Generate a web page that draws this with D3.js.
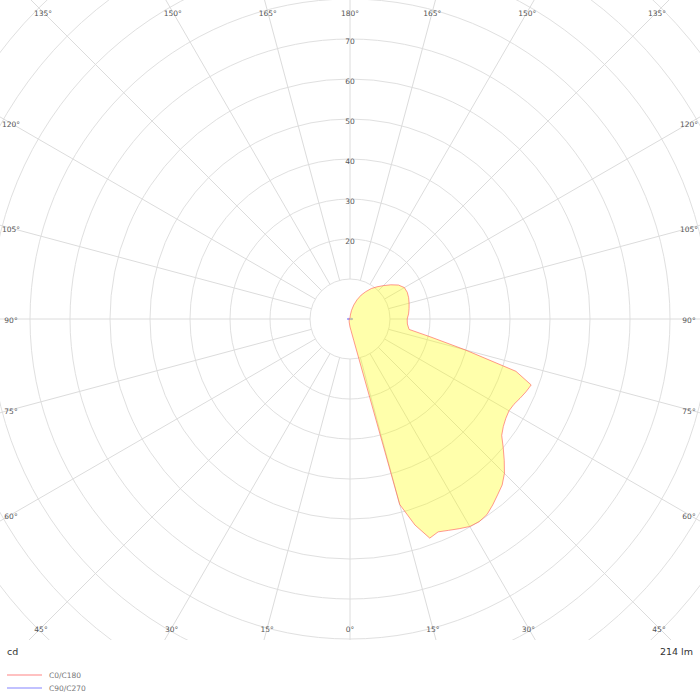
<!DOCTYPE html>
<html>
<head>
<meta charset="utf-8">
<script src="https://cdn.jsdelivr.net/npm/d3@7"></script>
<style>
    body { margin: 0; background: #fff; }
    svg { display: block; font-family: "DejaVu Sans", sans-serif; }
</style>
</head>
<body>
<script>
// gamma angles (deg) and intensities (cd)
var gammaC0 = [0, 5, 10, 15, 17.5, 20, 22.5, 25, 27.5, 30, 32.5, 35, 37.5, 40, 42.5, 45, 47.5, 50,
    52.5, 55, 57.5, 60, 62.5, 65, 67.5, 70, 72.5, 75, 77.5, 80, 85, 90, 95, 100, 105, 110, 115,
    120, 125, 130, 135, 140, 145, 150, 155, 160, 165, 170, 175, 180];
var cdC0 = [2.0, 2.9, 5.5, 48.0, 54.0, 58.3, 57.6, 58.3, 59.1, 59.9, 60.1, 59.7, 58.6, 57.4, 56.3, 54.6, 52.3, 50.0,
    47.8, 46.8, 46.2, 45.9, 46.2, 46.9, 47.6, 48.2, 43.5, 29.8, 20.5, 15.0, 14.4, 14.3, 14.7, 15.0, 15.3, 15.6, 15.8,
    15.7, 14.8, 13.3, 11.8, 10.5, 9.3, 7.9, 6.6, 5.1, 3.6, 2.2, 1.0, 0.3];

var gammaC180 = [0, 15, 30, 45, 60, 75, 90, 105, 120, 135, 150, 165, 180];
var cdC180 = [2.0, 0.8, 0.4, 0.3, 0.2, 0.2, 0.2, 0.2, 0.2, 0.2, 0.2, 0.2, 0.3];

var gammaC90 = [0, 15, 30, 45, 60, 75, 90, 105, 120, 135, 150, 165, 180];
var cdC90 = [0.1, 0.1, 0.1, 0.2, 0.3, 0.5, 0.7, 0.5, 0.3, 0.2, 0.1, 0.1, 0.1];
var cdC270 = [0.1, 0.1, 0.1, 0.2, 0.3, 0.5, 0.7, 0.5, 0.3, 0.2, 0.1, 0.1, 0.1];

var ringValues = [10, 20, 30, 40, 50, 60, 70, 80, 90, 100, 110, 120];
var ringLabels = [20, 30, 40, 50, 60, 70];
var spokeAngles = d3.range(0, 360, 15);

var legendNames = ["C0/C180", "C90/C270"];
var legendColors = ["#ffadad", "#adadff"];
var unitText = "cd";
var fluxText = "214 lm";

// set up
var width = 700, height = 700, plotH = 640;
var cx = 350, cy = 319;

var svg = d3.select("body").append("svg")
    .attr("width", width)
    .attr("height", height);

var r = d3.scaleLinear().domain([0, 10]).range([0, 40]);
var a = d3.scaleLinear().domain([0, 180]).range([0, Math.PI]);

svg.append("clipPath").attr("id", "plotClip")
    .append("rect").attr("x", 0).attr("y", 0).attr("width", width).attr("height", plotH);

var plot = svg.append("g").attr("clip-path", "url(#plotClip)");
var g = plot.append("g").attr("transform", "translate(" + cx + "," + cy + ")");

// rings
g.selectAll("circle.ring")
    .data(ringValues)
    .enter().append("circle")
    .attr("class", "ring")
    .attr("r", function(d) { return r(d); })
    .attr("fill", "none")
    .attr("stroke", "#e0e0e0")
    .attr("stroke-width", 1);

// spokes, gamma 0 points down
g.selectAll("line.spoke")
    .data(spokeAngles)
    .enter().append("line")
    .attr("class", "spoke")
    .attr("x1", function(d) { return r(10) * Math.sin(a(d)); })
    .attr("y1", function(d) { return r(10) * Math.cos(a(d)); })
    .attr("x2", function(d) { return 700 * Math.sin(a(d)); })
    .attr("y2", function(d) { return 700 * Math.cos(a(d)); })
    .attr("stroke", "#dcdcdc")
    .attr("stroke-width", 1);

// one closed outline: right half from gamma 0..180, left half back down
function halfPoints(gammas, values, side) {
    return gammas.map(function(gm, i) {
        return { ang: Math.PI - side * a(gm), val: values[i] };
    });
}
var radial = d3.lineRadial()
    .angle(function(d) { return d.ang; })
    .radius(function(d) { return r(d.val); });

var ptsC0 = halfPoints(gammaC0, cdC0, 1).concat(halfPoints(gammaC180, cdC180, -1).reverse());
var ptsC90 = halfPoints(gammaC90, cdC90, 1).concat(halfPoints(gammaC90, cdC270, -1).reverse());

g.append("path")
    .attr("d", radial(ptsC90) + "Z")
    .attr("fill", "none")
    .attr("stroke", "#6666ff")
    .attr("stroke-opacity", 0.7)
    .attr("stroke-width", 1);

g.append("path")
    .attr("d", radial(ptsC0) + "Z")
    .attr("fill", "#ffff00")
    .attr("fill-opacity", 0.33)
    .attr("stroke", "#ff5555")
    .attr("stroke-opacity", 0.6)
    .attr("stroke-width", 1);

// ring labels on the vertical axis
g.selectAll("text.ringLabel")
    .data(ringLabels)
    .enter().append("text")
    .attr("class", "ringLabel")
    .attr("x", 0)
    .attr("y", function(d) { return -r(d) + 2; })
    .attr("text-anchor", "middle")
    .attr("dominant-baseline", "central")
    .attr("font-size", "7.5px")
    .attr("fill", "#555")
    .text(function(d) { return d; });

// angle labels where the spokes meet the frame
var box = { left: 11, right: 689, top: 12, bottom: 628 };
function labelPos(d) {
    var s = Math.sin(a(d)), c = Math.cos(a(d));
    var ts = [];
    if (s > 1e-6) ts.push((box.right - cx) / s);
    if (s < -1e-6) ts.push((box.left - cx) / s);
    if (c > 1e-6) ts.push((box.bottom - cy) / c);
    if (c < -1e-6) ts.push((box.top - cy) / c);
    var t = d3.min(ts);
    return [cx + t * s, cy + t * c];
}
svg.selectAll("text.angLabel")
    .data(spokeAngles)
    .enter().append("text")
    .attr("class", "angLabel")
    .attr("x", function(d) { return labelPos(d)[0]; })
    .attr("y", function(d) { return labelPos(d)[1] + 1.5; })
    .attr("text-anchor", "middle")
    .attr("dominant-baseline", "central")
    .attr("font-size", "7.5px")
    .attr("fill", "#555")
    .text(function(d) { return (d <= 180 ? d : 360 - d) + "°"; });

// units and flux
svg.append("text")
    .attr("x", 7).attr("y", 655)
    .attr("font-size", "9.5px").attr("fill", "#333")
    .text(unitText);
svg.append("text")
    .attr("x", 693).attr("y", 655)
    .attr("text-anchor", "end")
    .attr("font-size", "9.5px").attr("fill", "#333")
    .text(fluxText);

// legend
var legend = svg.selectAll("g.legend")
    .data(legendNames)
    .enter().append("g")
    .attr("class", "legend")
    .attr("transform", function(d, i) { return "translate(7," + (675 + i * 13) + ")"; });
legend.append("line")
    .attr("x1", 0).attr("x2", 35)
    .attr("stroke", function(d, i) { return legendColors[i]; })
    .attr("stroke-width", 1.5);
legend.append("text")
    .attr("x", 42)
    .attr("dominant-baseline", "central")
    .attr("font-size", "7.5px")
    .attr("fill", "#777")
    .text(function(d) { return d; });
</script>
</body>
</html>
